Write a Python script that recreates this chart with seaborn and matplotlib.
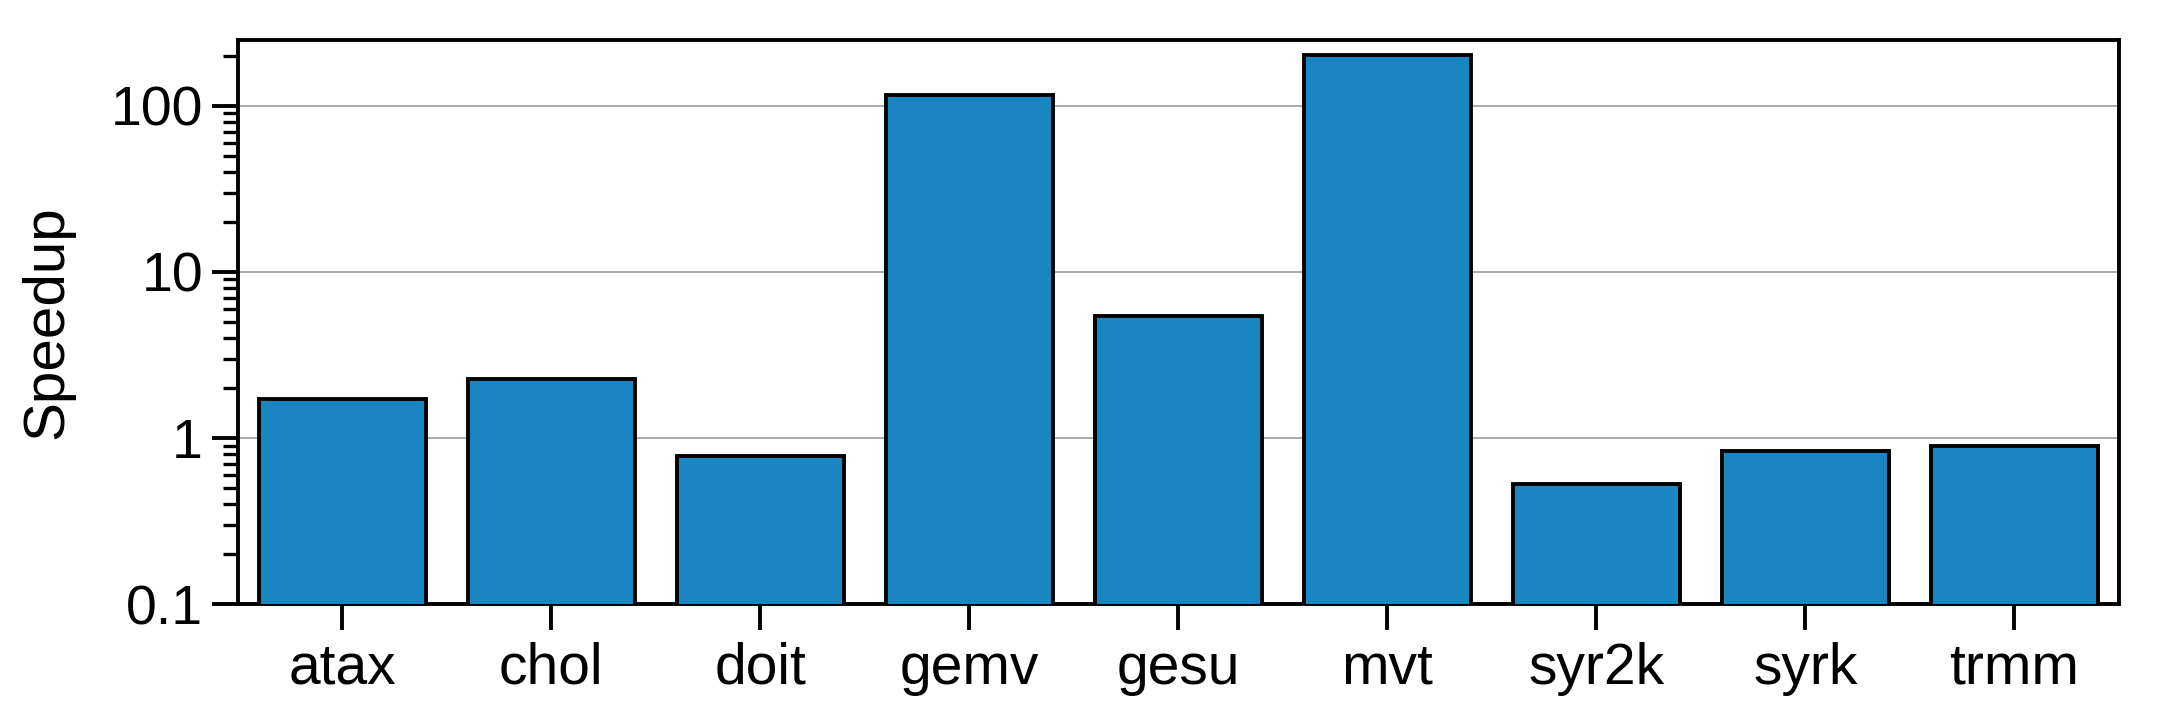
import pandas as pd
import matplotlib
matplotlib.use("Agg")
import matplotlib.pyplot as plt
import seaborn as sns

# Benchmark speedups
benchmarks = ["atax", "chol", "doit", "gemv", "gesu", "mvt", "syr2k", "syrk", "trmm"]
speedups = [1.71, 2.28, 0.78, 116, 5.4, 203, 0.53, 0.83, 0.89]

df = pd.DataFrame({"Benchmark": benchmarks, "Speedup": speedups})

sns.set_style("ticks")
plt.rcParams["font.family"] = ["Liberation Sans", "DejaVu Sans"]
plt.rcParams["text.color"] = "black"
plt.rcParams["axes.labelcolor"] = "black"
plt.rcParams["xtick.color"] = "black"
plt.rcParams["ytick.color"] = "black"

fig, ax = plt.subplots(figsize=(21.62, 7.09), dpi=100)
fig.subplots_adjust(left=0.110, right=0.980, top=0.944, bottom=0.148)

sns.barplot(data=df, x="Benchmark", y="Speedup", color="#1a86c1", saturation=1,
            edgecolor="black", linewidth=2.8, width=0.8, ax=ax, zorder=3)

ax.set_yscale("log")
ax.set_ylim(0.1, 250)
ax.set_yticks([0.1, 1, 10, 100])
ax.set_yticklabels(["0.1", "1", "10", "100"])
ax.yaxis.grid(True, which="major", color="#999999", linewidth=1.2, zorder=0)
ax.set_axisbelow(True)

ax.set_xlabel("")
ax.set_ylabel("Speedup", fontsize=42, labelpad=26)
ax.tick_params(axis="x", which="major", labelsize=41, length=19, width=2.8,
               direction="out", pad=8)
ax.tick_params(axis="y", which="major", labelsize=40, length=19, width=2.8,
               direction="out", pad=6)
ax.tick_params(axis="y", which="minor", length=11, width=2.4, direction="out")
for s in ax.spines.values():
    s.set_linewidth(2.8)
    s.set_color("black")

fig.savefig("out.png", dpi=100)
